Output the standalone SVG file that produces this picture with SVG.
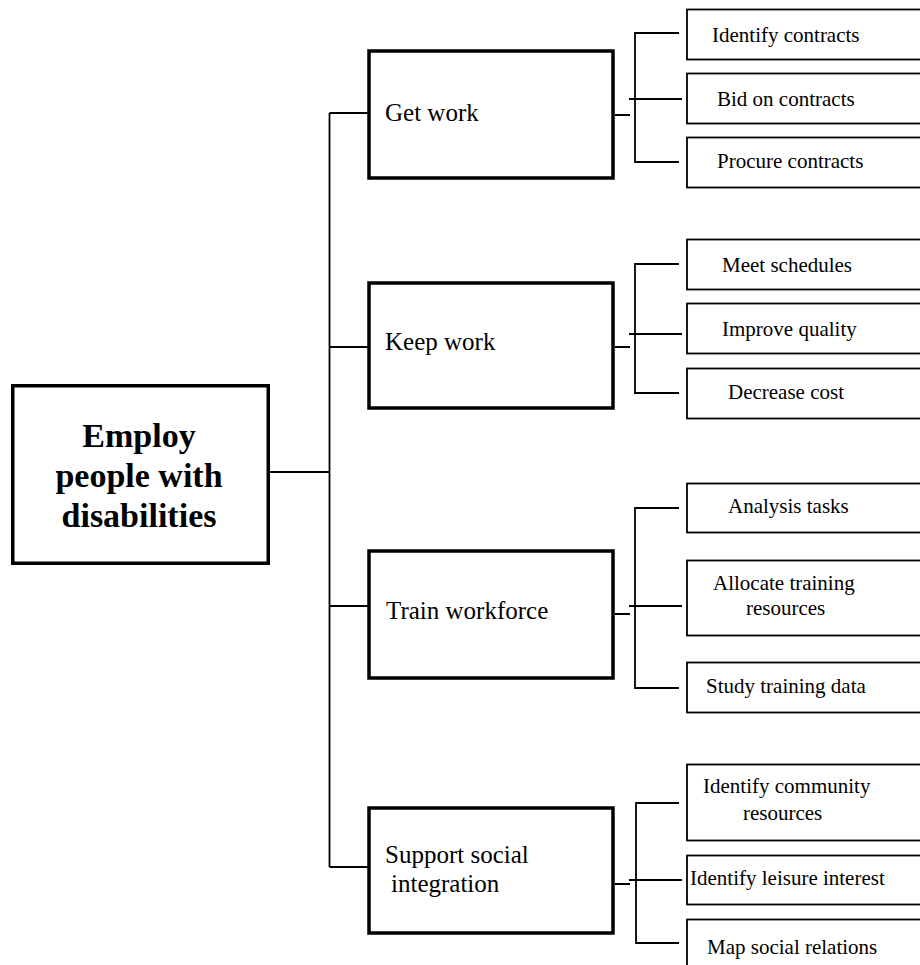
<svg xmlns="http://www.w3.org/2000/svg" width="920" height="965" viewBox="0 0 920 965">
<style>
.bg{fill:#fff}
.root{fill:#fff;stroke:#000;stroke-width:3.5}
.mid{fill:#fff;stroke:#000;stroke-width:3.5}
.leaf{fill:#fff;stroke:#000;stroke-width:1.8}
.con{fill:none;stroke:#000;stroke-width:1.8}
.t{font-family:"Liberation Serif","Times New Roman",serif;fill:#000}
.tr{font-size:34px;font-weight:bold;text-anchor:middle}
.tm{font-size:25px}
.tl{font-size:21px}
</style>
<rect class="bg" x="0" y="0" width="920" height="965"/>
<g id="connectors">
<path class="con" d="M270 472 H329.5 M329.5 113 V867 M329.5 113 H368 M329.5 347 H368 M329.5 606 H368 M329.5 867 H368"/>
<path class="con" d="M615 115 H630 M679 33 H635 V162 H679 M629 99 H682"/>
<path class="con" d="M615 347 H630 M679 264 H635 V393 H679 M629 334 H682"/>
<path class="con" d="M615 614 H630 M679 508 H635 V688 H679 M629 606 H682"/>
<path class="con" d="M615 884 H630 M679 803 H636 V943 H679 M629 880 H682"/>
</g>
<g id="root">
<rect class="root" x="12.75" y="385.75" width="255.5" height="177.5"/>
<text class="t tr" x="139" y="447">Employ</text>
<text class="t tr" x="139" y="487">people with</text>
<text class="t tr" x="139" y="527">disabilities</text>
</g>
<g id="get-work">
<rect class="mid" x="369" y="51" width="244" height="127"/>
<text class="t tm" x="385" y="121">Get work</text>
</g>
<g id="keep-work">
<rect class="mid" x="369" y="283" width="244" height="125"/>
<text class="t tm" x="385" y="350">Keep work</text>
</g>
<g id="train-workforce">
<rect class="mid" x="369" y="551" width="244" height="127"/>
<text class="t tm" x="386" y="619">Train workforce</text>
</g>
<g id="support-social">
<rect class="mid" x="369" y="808" width="244" height="125"/>
<text class="t tm" x="385" y="863">Support social</text>
<text class="t tm" x="391" y="892">integration</text>
</g>
<g id="identify-contracts">
<rect class="leaf" x="687" y="9.5" width="250" height="50"/>
<text class="t tl" x="712" y="42">Identify contracts</text>
</g>
<g id="bid-on-contracts">
<rect class="leaf" x="687" y="73.5" width="250" height="50"/>
<text class="t tl" x="717" y="106">Bid on contracts</text>
</g>
<g id="procure-contracts">
<rect class="leaf" x="687" y="137.5" width="250" height="50"/>
<text class="t tl" x="717" y="168">Procure contracts</text>
</g>
<g id="meet-schedules">
<rect class="leaf" x="687" y="239.5" width="250" height="50"/>
<text class="t tl" x="722" y="272">Meet schedules</text>
</g>
<g id="improve-quality">
<rect class="leaf" x="687" y="303.5" width="250" height="50"/>
<text class="t tl" x="722" y="336">Improve quality</text>
</g>
<g id="decrease-cost">
<rect class="leaf" x="687" y="368.5" width="250" height="50"/>
<text class="t tl" x="728" y="399">Decrease cost</text>
</g>
<g id="analysis-tasks">
<rect class="leaf" x="687" y="483.5" width="250" height="49"/>
<text class="t tl" x="728" y="513">Analysis tasks</text>
</g>
<g id="allocate-training">
<rect class="leaf" x="687" y="560.5" width="250" height="75"/>
<text class="t tl" x="713" y="590">Allocate training</text>
<text class="t tl" x="746" y="615">resources</text>
</g>
<g id="study-training-data">
<rect class="leaf" x="687" y="662.5" width="250" height="50"/>
<text class="t tl" x="706" y="693">Study training data</text>
</g>
<g id="identify-community">
<rect class="leaf" x="687" y="764.5" width="250" height="76"/>
<text class="t tl" x="703" y="793">Identify community</text>
<text class="t tl" x="743" y="820">resources</text>
</g>
<g id="identify-leisure">
<rect class="leaf" x="687" y="855.5" width="250" height="49"/>
<text class="t tl" x="690" y="885">Identify leisure interest</text>
</g>
<g id="map-social">
<rect class="leaf" x="687" y="919.5" width="250" height="60"/>
<text class="t tl" x="707" y="954">Map social relations</text>
</g>
</svg>
